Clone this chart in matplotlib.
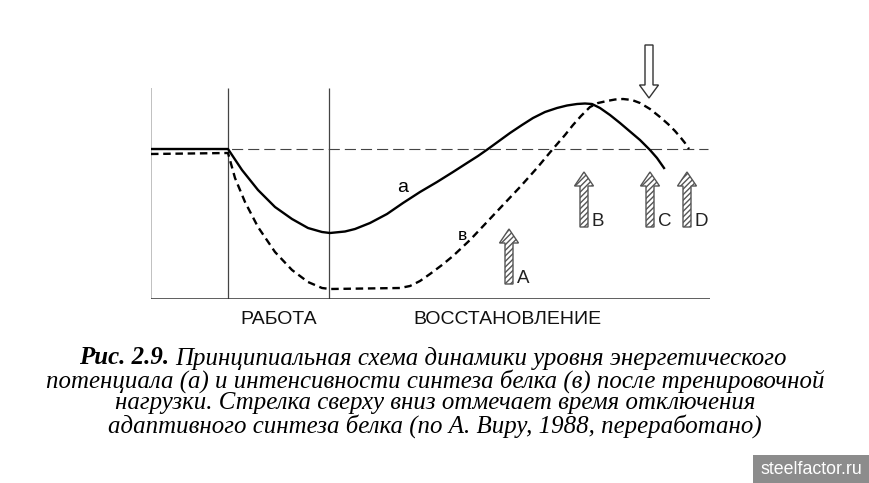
import matplotlib
matplotlib.use('Agg')
import matplotlib.pyplot as plt
from matplotlib.patches import FancyArrow, Rectangle

plt.rcParams['lines.scale_dashes'] = False

# curve a (energy potential): time, level
a_t = [0, 77, 91, 107, 124, 141, 157, 171, 179, 194, 204, 219, 236, 252, 269, 286, 302, 316,
       327, 337, 348, 359, 371, 382, 394, 406, 416, 426, 434, 441, 449, 459, 469, 479, 489,
       499, 506, 513]
a_v = [150, 150, 129, 109, 92, 80, 71, 67, 66, 67.5, 70, 76, 85, 96, 107, 117, 127, 136,
       143, 150, 158, 166, 174, 181, 187, 191, 193.5, 195, 195.5, 195, 191, 184, 176, 167.5, 159,
       149, 141, 131]

# curve в (protein synthesis)
b_t = [0, 77, 84, 94, 107, 124, 141, 157, 171, 179, 249, 259, 269, 279, 291, 302, 319, 336,
       352, 369, 386, 401, 414, 422, 430, 439, 447, 456, 464, 472, 481, 489, 499, 509, 517,
       524, 530, 534, 538]
b_v = [145, 146, 121, 97, 72, 47, 29, 17, 11, 10, 11, 13, 18, 25, 34, 43, 59, 77,
       94, 112, 131, 149, 164, 174, 183, 192, 196, 198, 199.5, 200, 199, 196, 190, 182, 175,
       168, 161, 156, 150]

ref_level = 150
work_bounds = [77, 178]

arrow_labels = ['A', 'B', 'C', 'D']
arrow_times = [358, 433, 499, 536]
arrow_low = [15, 72, 72, 72]
stop_time = 498

caption_bold = 'Рис. 2.9. '
caption_lines = [
    'Принципиальная схема динамики уровня энергетического',
    'потенциала (а) и интенсивности синтеза белка (в) после тренировочной',
    'нагрузки. Стрелка сверху вниз отмечает время отключения',
    'адаптивного синтеза белка (по А. Виру, 1988, переработано)',
]

W, H = 870, 483
fig = plt.figure(figsize=(W / 100, H / 100), dpi=100)
ax = fig.add_axes([151 / W, (H - 299) / H, 559 / W, 211 / H])
ax.set_xlim(0, 559)
ax.set_ylim(0, 211)
ax.axis('off')

# frame lines
ax.plot([0, 0], [0, 211], color='#bbbbbb', lw=1.3, solid_capstyle='butt')
for x in work_bounds:
    ax.plot([x, x], [0, 211], color='#444444', lw=0.9, solid_capstyle='butt')
ax.plot([0, 559], [0, 0], color='#333333', lw=1.1)
ax.plot([0, 557], [ref_level, ref_level], color='#444444', lw=0.8, dashes=(8, 3.6))

ax.plot(a_t, a_v, color='black', lw=1.7, solid_joinstyle='round')
ax.plot(b_t, b_v, color='black', lw=1.7, dashes=(5.4, 3.4))

ax.text(252, 112, 'a', fontsize=14, family='Liberation Sans', ha='center', va='center')
ax.text(311, 64, 'в', fontsize=12.5, family='Liberation Sans', ha='center', va='center')

for lab, t, y0 in zip(arrow_labels, arrow_times, arrow_low):
    arr = FancyArrow(t, y0, 0, 55, width=8, head_width=19, head_length=14,
                     length_includes_head=True, facecolor='white', edgecolor='#555555',
                     hatch='//////', lw=1.0)
    ax.add_patch(arr)
    ax.text(t + 8, y0 + 1, lab, fontsize=13.5, family='Liberation Sans',
            ha='left', va='baseline', color='#222222')

down = FancyArrow(stop_time, 254, 0, -53, width=8, head_width=19, head_length=13,
                  length_includes_head=True, facecolor='white', edgecolor='#333333',
                  lw=1.0, clip_on=False)
ax.add_patch(down)

ax.text((work_bounds[0] + work_bounds[1]) / 2, -20.5, 'РАБОТА', fontsize=14,
        family='Liberation Sans', ha='center', va='center', color='#111111')
ax.text(356, -20.5, 'ВОССТАНОВЛЕНИЕ', fontsize=14,
        family='Liberation Sans', ha='center', va='center', color='#111111')

# caption
cap_size = 17.9
cx = 435 / W
ys = [358, 381, 403, 426]
fig.canvas.draw()
r = fig.canvas.get_renderer()
tb = fig.text(0, 1 - ys[0] / H, caption_bold, fontsize=cap_size, family='Liberation Serif',
              style='italic', weight='bold', ha='left', va='center')
tr = fig.text(0, 1 - ys[0] / H, caption_lines[0], fontsize=cap_size, family='Liberation Serif',
              style='italic', ha='left', va='center')
wb = tb.get_window_extent(r).width
wr = tr.get_window_extent(r).width
x0 = 433 - (wb + wr) / 2
tb.set_x(x0 / W)
tr.set_x((x0 + wb) / W)
for line, y in zip(caption_lines[1:], ys[1:]):
    fig.text(cx, 1 - y / H, line, fontsize=cap_size, family='Liberation Serif',
             style='italic', ha='center', va='center')

# watermark
fig.patches.append(Rectangle((753 / W, 0), (W - 753) / W, 28 / H, transform=fig.transFigure,
                             facecolor='#8c8c8c', edgecolor='none'))
fig.text(811 / W, 14 / H, 'steelfactor.ru', fontsize=12.8, family='Liberation Sans',
         color='white', ha='center', va='center')

fig.savefig('out.png', dpi=100)
